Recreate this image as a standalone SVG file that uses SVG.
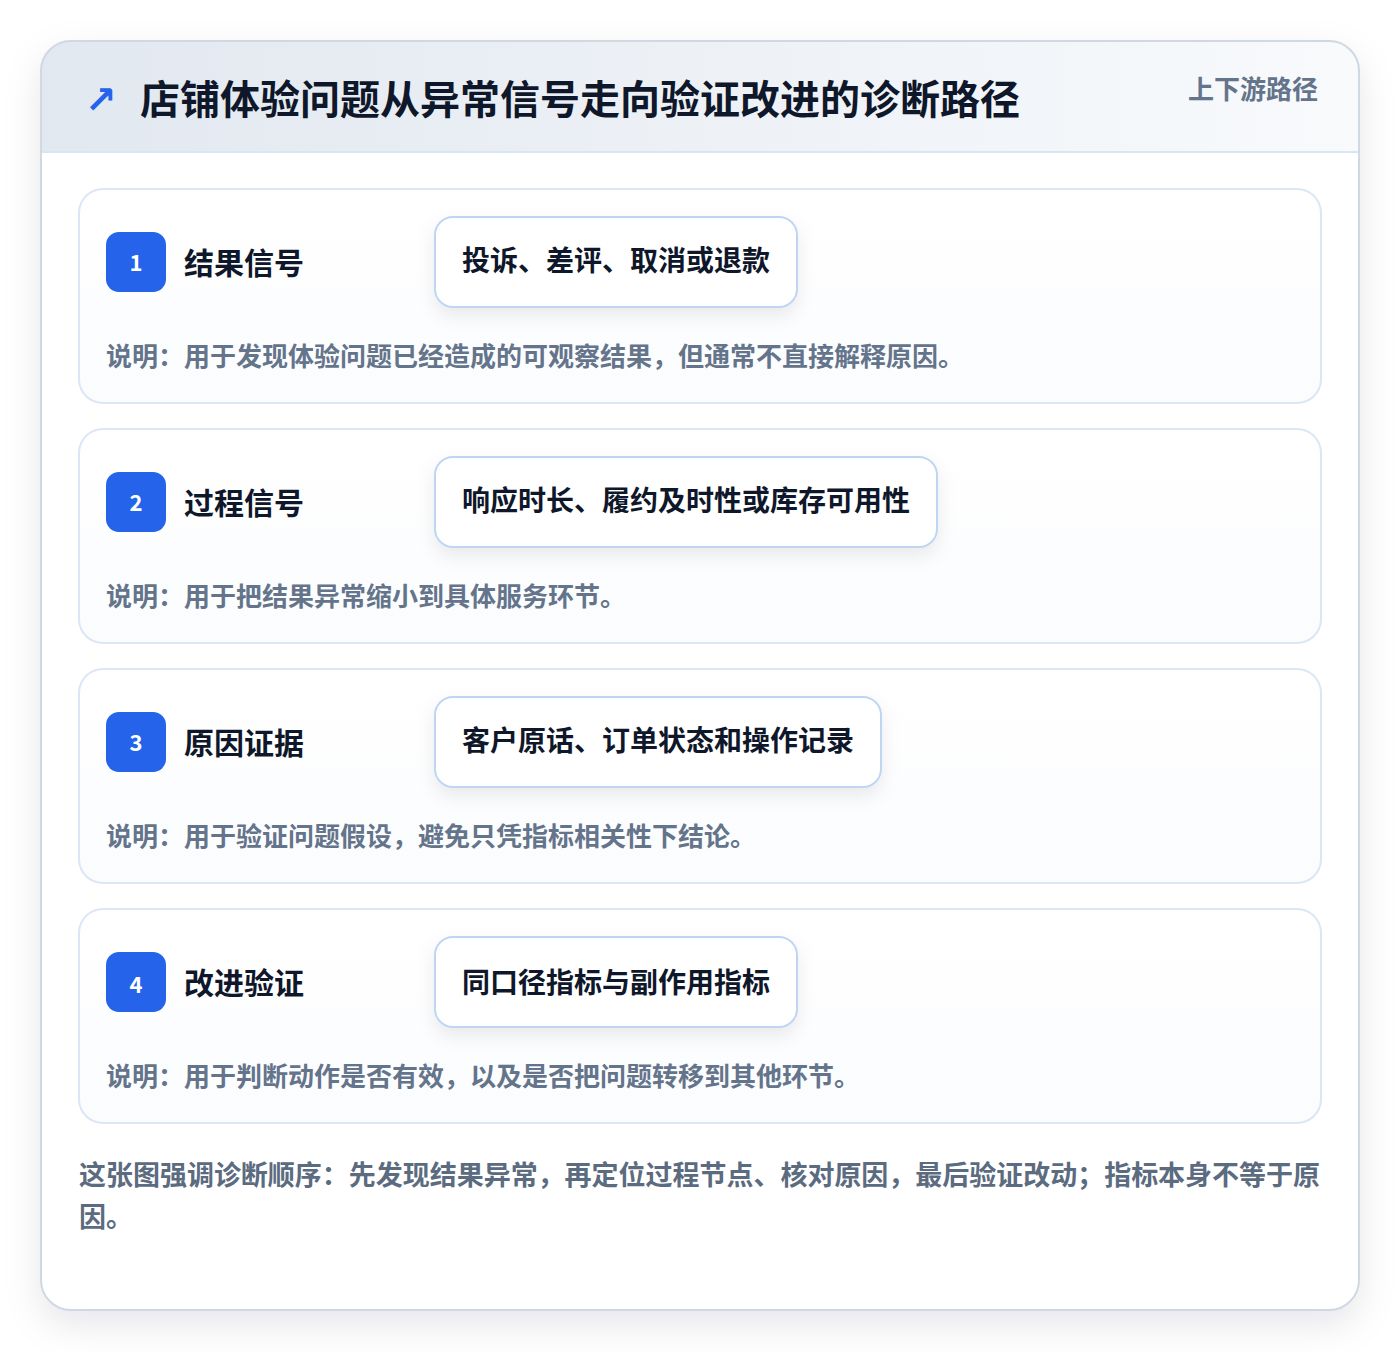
<svg xmlns="http://www.w3.org/2000/svg" width="1400" height="1352" viewBox="0 0 1400 1352">
<defs>
<linearGradient id="hdr" x1="0" y1="0" x2="1" y2="0">
<stop offset="0" stop-color="#e2e8f0"/>
<stop offset="1" stop-color="#f8fafc"/>
</linearGradient>
<linearGradient id="cardg" x1="0" y1="0" x2="0" y2="1">
<stop offset="0" stop-color="#ffffff"/>
<stop offset="1" stop-color="#fbfcfe"/>
</linearGradient>
<filter id="sh" x="-10%" y="-10%" width="120%" height="125%">
<feDropShadow dx="0" dy="14" stdDeviation="18" flood-color="#0f172a" flood-opacity="0.10"/>
</filter>
<filter id="chipsh" x="-20%" y="-30%" width="140%" height="180%">
<feDropShadow dx="0" dy="8" stdDeviation="9" flood-color="#0f172a" flood-opacity="0.08"/>
</filter>
<clipPath id="outerClip"><rect x="41" y="41" width="1318" height="1269" rx="30"/></clipPath>
</defs>
<style>
text{font-family:"Noto Sans CJK SC","Noto Sans",sans-serif;font-weight:700}
.card{fill:url(#cardg);stroke:#dbe7f5;stroke-width:2}
.badge{fill:#2563eb}
.num{fill:#ffffff;font-size:22px;text-anchor:middle}
.ttl{fill:#0f172a;font-size:30px}
.chip{fill:#ffffff;stroke:#bfd6f3;stroke-width:2}
.chipt{fill:#0f172a;font-size:28px}
.desc{fill:#64748b;font-size:26px}
</style>
<rect width="1400" height="1352" fill="#ffffff"/>
<rect x="41" y="41" width="1318" height="1269" rx="30" fill="#ffffff" filter="url(#sh)"/>
<g clip-path="url(#outerClip)">
<rect x="41" y="41" width="1318" height="111" fill="url(#hdr)"/>
<line x1="41" y1="152" x2="1359" y2="152" stroke="#d7e5f5" stroke-width="2"/>
</g>
<rect x="41" y="41" width="1318" height="1269" rx="30" fill="none" stroke="#cfd8e3" stroke-width="2"/>
<g id="header">
<text x="85" y="113" font-size="38" fill="#2563eb" style="font-family:'DejaVu Sans',sans-serif;font-weight:700">↗</text>
<text x="140" y="114" font-size="40" fill="#0f172a">店铺体验问题从异常信号走向验证改进的诊断路径</text>
<text x="1318" y="99" font-size="26" fill="#64748b" text-anchor="end">上下游路径</text>
</g>
<g id="step1">
<rect class="card" x="79" y="189" width="1242" height="214" rx="24"/>
<rect class="badge" x="106" y="232" width="60" height="60" rx="13"/>
<text class="num" x="136" y="271">1</text>
<text class="ttl" x="184" y="274">结果信号</text>
<rect class="chip" x="435" y="217" width="362" height="90" rx="18" filter="url(#chipsh)"/>
<text class="chipt" x="462" y="271">投诉、差评、取消或退款</text>
<text class="desc" x="106" y="366">说明：用于发现体验问题已经造成的可观察结果，但通常不直接解释原因。</text>
</g>
<g id="step2">
<rect class="card" x="79" y="429" width="1242" height="214" rx="24"/>
<rect class="badge" x="106" y="472" width="60" height="60" rx="13"/>
<text class="num" x="136" y="511">2</text>
<text class="ttl" x="184" y="514">过程信号</text>
<rect class="chip" x="435" y="457" width="502" height="90" rx="18" filter="url(#chipsh)"/>
<text class="chipt" x="462" y="511">响应时长、履约及时性或库存可用性</text>
<text class="desc" x="106" y="606">说明：用于把结果异常缩小到具体服务环节。</text>
</g>
<g id="step3">
<rect class="card" x="79" y="669" width="1242" height="214" rx="24"/>
<rect class="badge" x="106" y="712" width="60" height="60" rx="13"/>
<text class="num" x="136" y="751">3</text>
<text class="ttl" x="184" y="754">原因证据</text>
<rect class="chip" x="435" y="697" width="446" height="90" rx="18" filter="url(#chipsh)"/>
<text class="chipt" x="462" y="751">客户原话、订单状态和操作记录</text>
<text class="desc" x="106" y="846">说明：用于验证问题假设，避免只凭指标相关性下结论。</text>
</g>
<g id="step4">
<rect class="card" x="79" y="909" width="1242" height="214" rx="24"/>
<rect class="badge" x="106" y="952" width="60" height="60" rx="13"/>
<text class="num" x="136" y="993">4</text>
<text class="ttl" x="184" y="994">改进验证</text>
<rect class="chip" x="435" y="937" width="362" height="90" rx="18" filter="url(#chipsh)"/>
<text class="chipt" x="462" y="993">同口径指标与副作用指标</text>
<text class="desc" x="106" y="1086">说明：用于判断动作是否有效，以及是否把问题转移到其他环节。</text>
</g>
<g id="footer">
<text x="79" y="1185" font-size="27" fill="#5b6b80" textLength="1241" lengthAdjust="spacing">这张图强调诊断顺序：先发现结果异常，再定位过程节点、核对原因，最后验证改动；指标本身不等于原</text>
<text x="79" y="1227" font-size="27" fill="#5b6b80">因。</text>
</g>
<g id="connectors"></g>
</svg>
